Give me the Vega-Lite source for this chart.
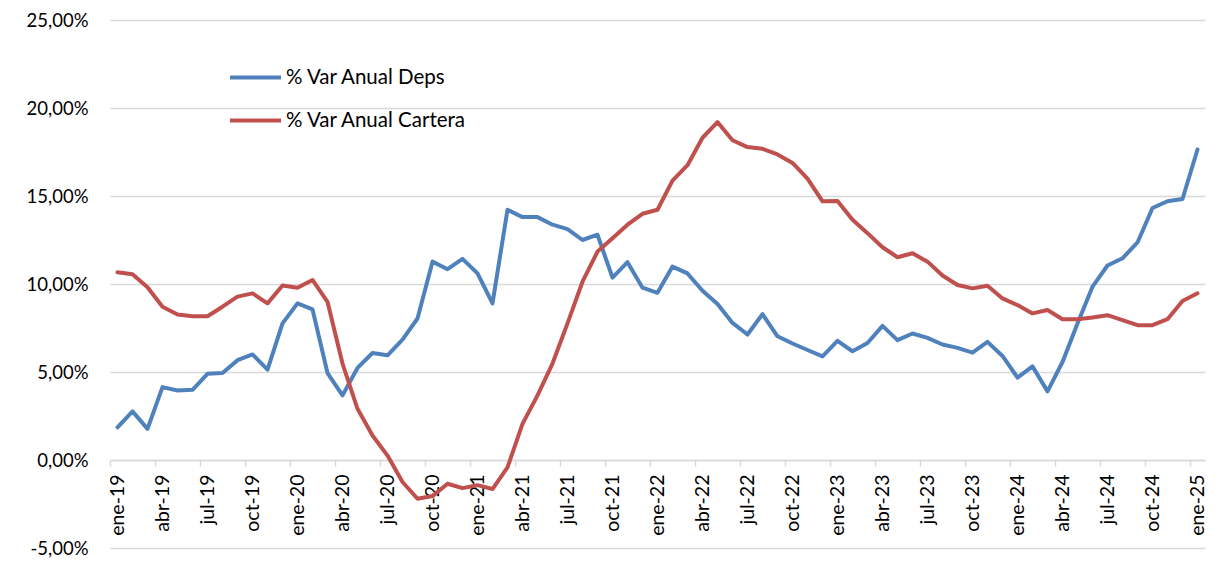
{
  "$schema": "https://vega.github.io/schema/vega-lite/v6.json",
  "width": 1095,
  "height": 528,
  "autosize": {"type": "none"},
  "padding": {"left": 110, "top": 20, "right": 16, "bottom": 13},
  "background": "white",
  "config": {"view": {"stroke": null}, "font": "Lato"},
  "data": {"values": [
    {"mes":"ene-19","% Var Anual Deps":1.86,"% Var Anual Cartera":10.67},
    {"mes":"feb-19","% Var Anual Deps":2.76,"% Var Anual Cartera":10.55},
    {"mes":"mar-19","% Var Anual Deps":1.77,"% Var Anual Cartera":9.81},
    {"mes":"abr-19","% Var Anual Deps":4.14,"% Var Anual Cartera":8.71},
    {"mes":"may-19","% Var Anual Deps":3.95,"% Var Anual Cartera":8.27},
    {"mes":"jun-19","% Var Anual Deps":3.99,"% Var Anual Cartera":8.17},
    {"mes":"jul-19","% Var Anual Deps":4.9,"% Var Anual Cartera":8.17},
    {"mes":"ago-19","% Var Anual Deps":4.94,"% Var Anual Cartera":8.71},
    {"mes":"sep-19","% Var Anual Deps":5.67,"% Var Anual Cartera":9.28},
    {"mes":"oct-19","% Var Anual Deps":6.0,"% Var Anual Cartera":9.47},
    {"mes":"nov-19","% Var Anual Deps":5.13,"% Var Anual Cartera":8.9},
    {"mes":"dic-19","% Var Anual Deps":7.76,"% Var Anual Cartera":9.92},
    {"mes":"ene-20","% Var Anual Deps":8.9,"% Var Anual Cartera":9.79},
    {"mes":"feb-20","% Var Anual Deps":8.56,"% Var Anual Cartera":10.23},
    {"mes":"mar-20","% Var Anual Deps":4.94,"% Var Anual Cartera":8.99},
    {"mes":"abr-20","% Var Anual Deps":3.67,"% Var Anual Cartera":5.48},
    {"mes":"may-20","% Var Anual Deps":5.23,"% Var Anual Cartera":2.91},
    {"mes":"jun-20","% Var Anual Deps":6.08,"% Var Anual Cartera":1.39},
    {"mes":"jul-20","% Var Anual Deps":5.95,"% Var Anual Cartera":0.25},
    {"mes":"ago-20","% Var Anual Deps":6.84,"% Var Anual Cartera":-1.25},
    {"mes":"sep-20","% Var Anual Deps":8.04,"% Var Anual Cartera":-2.2},
    {"mes":"oct-20","% Var Anual Deps":11.27,"% Var Anual Cartera":-2.05},
    {"mes":"nov-20","% Var Anual Deps":10.84,"% Var Anual Cartera":-1.35},
    {"mes":"dic-20","% Var Anual Deps":11.43,"% Var Anual Cartera":-1.6},
    {"mes":"ene-21","% Var Anual Deps":10.6,"% Var Anual Cartera":-1.43},
    {"mes":"feb-21","% Var Anual Deps":8.9,"% Var Anual Cartera":-1.65},
    {"mes":"mar-21","% Var Anual Deps":14.22,"% Var Anual Cartera":-0.42},
    {"mes":"abr-21","% Var Anual Deps":13.8,"% Var Anual Cartera":2.05},
    {"mes":"may-21","% Var Anual Deps":13.8,"% Var Anual Cartera":3.67},
    {"mes":"jun-21","% Var Anual Deps":13.37,"% Var Anual Cartera":5.48},
    {"mes":"jul-21","% Var Anual Deps":13.12,"% Var Anual Cartera":7.76},
    {"mes":"ago-21","% Var Anual Deps":12.5,"% Var Anual Cartera":10.13},
    {"mes":"sep-21","% Var Anual Deps":12.8,"% Var Anual Cartera":11.84},
    {"mes":"oct-21","% Var Anual Deps":10.36,"% Var Anual Cartera":12.6},
    {"mes":"nov-21","% Var Anual Deps":11.24,"% Var Anual Cartera":13.37},
    {"mes":"dic-21","% Var Anual Deps":9.79,"% Var Anual Cartera":13.99},
    {"mes":"ene-22","% Var Anual Deps":9.5,"% Var Anual Cartera":14.22},
    {"mes":"feb-22","% Var Anual Deps":10.99,"% Var Anual Cartera":15.87},
    {"mes":"mar-22","% Var Anual Deps":10.6,"% Var Anual Cartera":16.75},
    {"mes":"abr-22","% Var Anual Deps":9.62,"% Var Anual Cartera":18.31},
    {"mes":"may-22","% Var Anual Deps":8.86,"% Var Anual Cartera":19.2},
    {"mes":"jun-22","% Var Anual Deps":7.79,"% Var Anual Cartera":18.17},
    {"mes":"jul-22","% Var Anual Deps":7.13,"% Var Anual Cartera":17.78},
    {"mes":"ago-22","% Var Anual Deps":8.29,"% Var Anual Cartera":17.68},
    {"mes":"sep-22","% Var Anual Deps":7.03,"% Var Anual Cartera":17.36},
    {"mes":"oct-22","% Var Anual Deps":6.62,"% Var Anual Cartera":16.88},
    {"mes":"nov-22","% Var Anual Deps":6.25,"% Var Anual Cartera":15.99},
    {"mes":"dic-22","% Var Anual Deps":5.89,"% Var Anual Cartera":14.7},
    {"mes":"ene-23","% Var Anual Deps":6.77,"% Var Anual Cartera":14.72},
    {"mes":"feb-23","% Var Anual Deps":6.18,"% Var Anual Cartera":13.65},
    {"mes":"mar-23","% Var Anual Deps":6.65,"% Var Anual Cartera":12.89},
    {"mes":"abr-23","% Var Anual Deps":7.62,"% Var Anual Cartera":12.09},
    {"mes":"may-23","% Var Anual Deps":6.81,"% Var Anual Cartera":11.52},
    {"mes":"jun-23","% Var Anual Deps":7.19,"% Var Anual Cartera":11.75},
    {"mes":"jul-23","% Var Anual Deps":6.94,"% Var Anual Cartera":11.27},
    {"mes":"ago-23","% Var Anual Deps":6.56,"% Var Anual Cartera":10.48},
    {"mes":"sep-23","% Var Anual Deps":6.37,"% Var Anual Cartera":9.94},
    {"mes":"oct-23","% Var Anual Deps":6.1,"% Var Anual Cartera":9.75},
    {"mes":"nov-23","% Var Anual Deps":6.71,"% Var Anual Cartera":9.9},
    {"mes":"dic-23","% Var Anual Deps":5.91,"% Var Anual Cartera":9.18},
    {"mes":"ene-24","% Var Anual Deps":4.68,"% Var Anual Cartera":8.8},
    {"mes":"feb-24","% Var Anual Deps":5.32,"% Var Anual Cartera":8.33},
    {"mes":"mar-24","% Var Anual Deps":3.9,"% Var Anual Cartera":8.52},
    {"mes":"abr-24","% Var Anual Deps":5.57,"% Var Anual Cartera":8.0},
    {"mes":"may-24","% Var Anual Deps":7.76,"% Var Anual Cartera":8.0},
    {"mes":"jun-24","% Var Anual Deps":9.85,"% Var Anual Cartera":8.1},
    {"mes":"jul-24","% Var Anual Deps":11.05,"% Var Anual Cartera":8.23},
    {"mes":"ago-24","% Var Anual Deps":11.46,"% Var Anual Cartera":7.95},
    {"mes":"sep-24","% Var Anual Deps":12.36,"% Var Anual Cartera":7.66},
    {"mes":"oct-24","% Var Anual Deps":14.32,"% Var Anual Cartera":7.66},
    {"mes":"nov-24","% Var Anual Deps":14.7,"% Var Anual Cartera":8.0},
    {"mes":"dic-24","% Var Anual Deps":14.83,"% Var Anual Cartera":9.03},
    {"mes":"ene-25","% Var Anual Deps":17.64,"% Var Anual Cartera":9.47}
  ]},
  "transform": [
    {"fold": ["% Var Anual Deps", "% Var Anual Cartera"], "as": ["serie", "valor"]}
  ],
  "mark": {"type": "line", "strokeWidth": 4, "strokeCap": "round", "strokeJoin": "round"},
  "encoding": {
    "x": {
      "field": "mes",
      "type": "ordinal",
      "sort": null,
      "scale": {"type": "point", "padding": 0.5},
      "axis": {
        "title": null,
        "values": ["ene-19","abr-19","jul-19","oct-19","ene-20","abr-20","jul-20","oct-20","ene-21","abr-21","jul-21","oct-21","ene-22","abr-22","jul-22","oct-22","ene-23","abr-23","jul-23","oct-23","ene-24","abr-24","jul-24","oct-24","ene-25"],
        "offset": -88,
        "domainColor": "#D9D9D9",
        "domainWidth": 1.5,
        "tickColor": "#D9D9D9",
        "tickWidth": 1.5,
        "tickSize": 6,
        "tickOffset": -7.5,
        "labelOffset": 7.5,
        "labelAngle": 270,
        "labelAlign": "right",
        "labelBaseline": "middle",
        "labelPadding": 8,
        "labelFontSize": 19.5,
        "labelColor": "#000000",
        "labelFont": "Lato",
        "grid": false
      }
    },
    "y": {
      "field": "valor",
      "type": "quantitative",
      "scale": {"domain": [-5, 25], "nice": false, "zero": false},
      "axis": {
        "title": null,
        "values": [-5, 0, 5, 10, 15, 20, 25],
        "labelExpr": "(datum.value < 0 ? '-' : '') + replace(format(abs(datum.value), '.2f'), '.', ',') + '%'",
        "domain": false,
        "ticks": false,
        "grid": true,
        "gridColor": "#D9D9D9",
        "gridWidth": 1.5,
        "labelPadding": 22,
        "labelFontSize": 18.5,
        "labelColor": "#000000",
        "labelFont": "Lato"
      }
    },
    "color": {
      "field": "serie",
      "type": "nominal",
      "sort": ["% Var Anual Deps", "% Var Anual Cartera"],
      "scale": {"domain": ["% Var Anual Deps", "% Var Anual Cartera"], "range": ["#4F81BD", "#C0504D"]},
      "legend": {
        "title": null,
        "orient": "none",
        "legendX": 118,
        "legendY": 30,
        "symbolType": "stroke",
        "symbolSize": 2600,
        "symbolStrokeWidth": 4,
        "labelFontSize": 20.5,
        "labelColor": "#000000",
        "labelFont": "Lato",
        "labelOffset": 3,
        "labelLimit": 500,
        "rowPadding": 5
      }
    }
  }
}
